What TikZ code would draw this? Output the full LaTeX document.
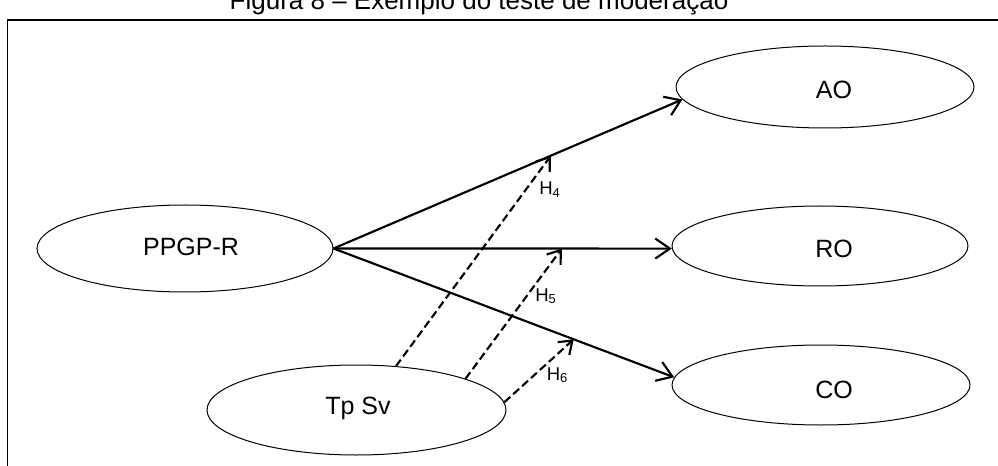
\documentclass[tikz,border=0pt]{standalone}
\usepackage{fontspec}
\setmainfont{Liberation Sans}
\usetikzlibrary{shapes.geometric,arrows.meta}
\tikzset{
  ell/.style={draw, ellipse, line width=0.75pt, inner sep=0pt},
  lbl/.style={inner sep=0pt, font=\fontsize{18.75}{22}\selectfont},
  hlbl/.style={inner sep=0pt, anchor=base west, font=\fontsize{13.9}{16}\selectfont},
  path/.style={line width=1.6pt, -{Straight Barb[length=11pt,width=15pt]}},
  mod/.style={line width=1.6pt, dash pattern=on 6pt off 3pt, -{Straight Barb[length=9pt,width=13pt]}},
  frame/.style={line width=1.1pt}
}
\begin{document}
\begin{tikzpicture}[x=0.75pt,y=-0.75pt]
\useasboundingbox (0,0) rectangle (998,466);
\clip (0,0) rectangle (998,466);
\fill[white] (0,0) rectangle (998,466);
% title and frame
\node[inner sep=0pt, anchor=base, font=\fontsize{19.5}{22}\selectfont] (title) at (479,10) {Figura 8 – Exemplo do teste de moderação};
\coordinate (fbl) at (7.5,470);
\coordinate (ftl) at (7.5,20);
\coordinate (ftr) at (1002,20);
\draw[frame] (fbl) -- (ftl) -- (ftr);
% ellipses
\node[ell, minimum width=222pt, minimum height=65.25pt] (ppgp) at (185,248.5) {};
\node[ell, minimum width=223.5pt, minimum height=61.5pt] (ao) at (825,87) {};
\node[ell, minimum width=222pt, minimum height=60pt] (ro) at (820,246) {};
\node[ell, minimum width=223.5pt, minimum height=60pt] (co) at (821,385) {};
\node[ell, minimum width=224.25pt, minimum height=67.5pt] (tpsv) at (356.5,410) {};
% texts
\node[lbl] (ppgpt) at (191,247) {PPGP-R};
\node[lbl] (aot) at (834,90) {AO};
\node[lbl] (rot) at (834,249) {RO};
\node[lbl] (cot) at (834,390) {CO};
\node[lbl] (tpsvt) at (358,408.5) {Tp Sv};
% structural paths
\draw[path] (ppgp.east) -- (ao.185.6) coordinate[pos=0.623] (h4);
\draw[path] (ppgp.east) -- (ro.181) coordinate[pos=0.675] (h5);
\draw[path] (ppgp.east) -- (co.177.3) coordinate[pos=0.705] (h6);
% moderation paths
\draw[mod] (tpsv.48) -- (h4);
\draw[mod] (tpsv.16) -- (h5);
\draw[mod] (tpsv.3) -- (h6);
% hypothesis labels
\node[hlbl] (h4l) at (539,195) {H\textsubscript{4}};
\node[hlbl] (h5l) at (535,301) {H\textsubscript{5}};
\node[hlbl] (h6l) at (546.5,380) {H\textsubscript{6}};
\end{tikzpicture}
\end{document}
